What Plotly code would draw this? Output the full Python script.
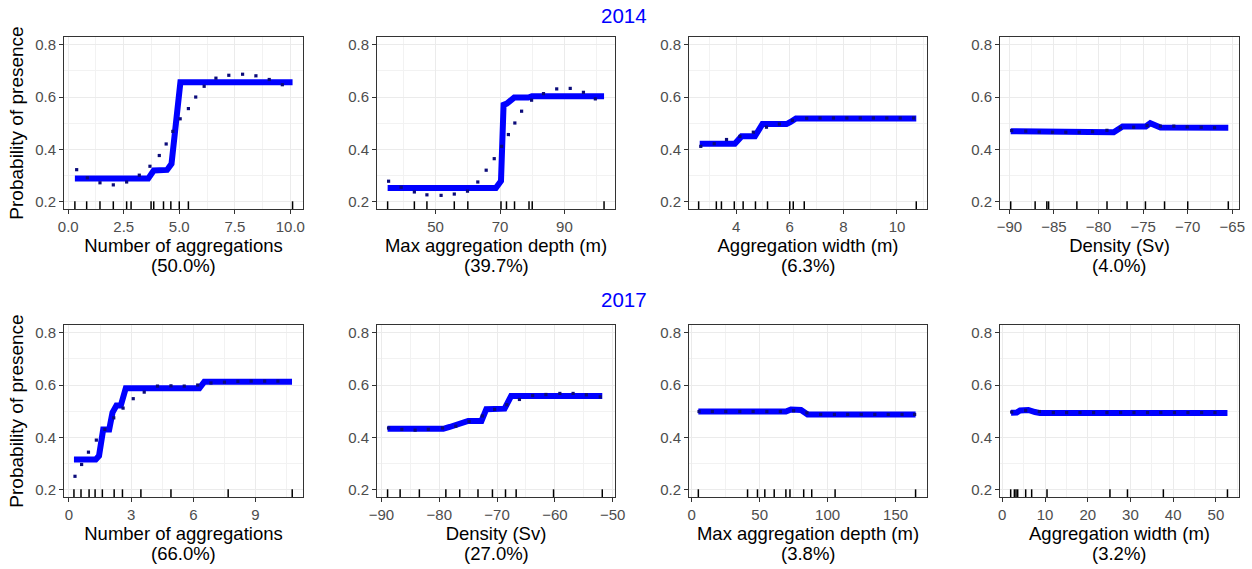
import plotly.graph_objects as go

# ---------------- data ----------------
YEARS = ["2014", "2017"]
TITLES_2014 = ["Number of aggregations", "Max aggregation depth (m)", "Aggregation width (m)", "Density (Sv)"]
PCT_2014 = ["(50.0%)", "(39.7%)", "(6.3%)", "(4.0%)"]
TITLES_2017 = ["Number of aggregations", "Density (Sv)", "Max aggregation depth (m)", "Aggregation width (m)"]
PCT_2017 = ["(66.0%)", "(27.0%)", "(3.8%)", "(3.2%)"]
Y_LABEL = "Probability of presence"
Y_TICKS = [0.2, 0.4, 0.6, 0.8]

# 2014 - Number of aggregations
n14_line_x = [0.3, 3.6, 3.85, 4.45, 4.65, 4.8, 5.05, 10.1]
n14_line_y = [0.289, 0.289, 0.32, 0.322, 0.345, 0.45, 0.656, 0.656]
n14_dot_x = [0.38, 0.86, 1.43, 2.03, 2.63, 3.2, 3.68, 4.1, 4.41, 4.71, 5.04, 5.41, 5.74, 6.12, 6.65, 7.23, 7.85, 8.45, 9.05, 9.64]
n14_dot_y = [0.323, 0.292, 0.273, 0.265, 0.276, 0.302, 0.336, 0.377, 0.421, 0.469, 0.517, 0.556, 0.60, 0.641, 0.672, 0.683, 0.687, 0.681, 0.667, 0.647]
n14_rug = [0.30, 0.83, 1.43, 2.03, 2.63, 2.83, 3.73, 3.85, 4.29, 4.62, 5.0, 5.41, 10.1]

# 2014 - Max aggregation depth
d14_line_x = [35.1, 68.7, 70.3, 71.1, 72.1, 73.2, 74.4, 78.8, 79.9, 102.3]
d14_line_y = [0.253, 0.253, 0.28, 0.57, 0.575, 0.59, 0.598, 0.598, 0.603, 0.603]
d14_dot_x = [35.4, 39.3, 43.4, 47.3, 51.7, 55.8, 59.9, 63.1, 65.7, 68.2, 70.5, 72.6, 74.6, 76.7, 79.8, 83.5, 87.6, 91.8, 95.9, 99.6]
d14_dot_y = [0.279, 0.256, 0.238, 0.227, 0.225, 0.23, 0.241, 0.276, 0.321, 0.365, 0.412, 0.457, 0.501, 0.546, 0.588, 0.613, 0.631, 0.633, 0.618, 0.593]
d14_rug = [35.1, 43.4, 47.3, 55.8, 60.0, 70.3, 72.0, 74.5, 79.0, 80.0, 102.3]

# 2014 - Aggregation width
w14_line_x = [2.64, 3.95, 4.2, 4.7, 4.98, 5.88, 6.03, 6.23, 10.72]
w14_line_y = [0.422, 0.422, 0.45, 0.45, 0.497, 0.497, 0.505, 0.518, 0.518]
w14_dot_x = [2.68, 3.18, 3.64, 4.14, 4.64, 5.13, 5.61, 6.1, 6.63, 7.13, 7.63, 8.13, 8.63, 9.12, 9.62, 10.12, 10.62]
w14_dot_y = [0.412, 0.422, 0.438, 0.45, 0.466, 0.485, 0.497, 0.511, 0.519, 0.52, 0.52, 0.52, 0.52, 0.52, 0.52, 0.52, 0.52]
w14_rug = [2.6, 3.26, 3.45, 3.93, 4.26, 4.72, 5.17, 6.0, 6.13, 6.54, 10.72]

# 2014 - Density
s14_line_x = [-89.85, -85.8, -85.24, -78.3, -77.3, -74.7, -74.2, -73.06, -65.45]
s14_line_y = [0.47, 0.47, 0.466, 0.466, 0.488, 0.488, 0.50, 0.484, 0.483]
s14_dot_x = [-89.74, -88.16, -86.66, -85.16, -83.67, -82.17, -80.67, -79.06, -77.56, -76.06, -74.56, -73.06, -71.56, -70.06, -68.49, -66.99]
s14_dot_y = [0.472, 0.47, 0.467, 0.466, 0.466, 0.466, 0.468, 0.473, 0.482, 0.485, 0.491, 0.489, 0.489, 0.486, 0.485, 0.483]
s14_rug = [-89.85, -87.11, -85.8, -85.6, -82.43, -79.05, -76.8, -74.74, -72.6, -70.0, -65.45]

# 2017 - Number of aggregations
n17_line_x = [0.24, 1.29, 1.45, 1.65, 1.94, 2.1, 2.29, 2.5, 2.74, 6.29, 6.53, 10.76]
n17_line_y = [0.316, 0.316, 0.33, 0.43, 0.43, 0.495, 0.522, 0.522, 0.588, 0.588, 0.613, 0.613]
n17_dot_x = [0.29, 0.61, 0.94, 1.32, 1.73, 2.16, 2.61, 3.1, 3.63, 4.27, 4.92, 5.56, 6.21, 6.85, 7.5, 8.15, 8.79, 9.44, 10.08]
n17_dot_y = [0.252, 0.297, 0.344, 0.39, 0.431, 0.475, 0.512, 0.548, 0.573, 0.596, 0.597, 0.596, 0.60, 0.608, 0.611, 0.614, 0.615, 0.615, 0.615]
n17_rug = [0.24, 0.58, 0.97, 1.26, 1.61, 2.18, 2.58, 3.47, 4.92, 7.68, 10.77]

# 2017 - Density
s17_line_x = [-88.94, -79.3, -78.2, -75.9, -75.0, -72.7, -71.86, -68.7, -67.57, -51.8]
s17_line_y = [0.433, 0.433, 0.44, 0.455, 0.463, 0.463, 0.508, 0.51, 0.558, 0.558]
s17_dot_x = [-88.77, -86.48, -84.18, -81.89, -79.43, -77.14, -74.85, -72.55, -70.43, -68.31, -66.13, -63.84, -61.55, -59.14, -56.85, -54.56, -52.15]
s17_dot_y = [0.436, 0.431, 0.428, 0.431, 0.436, 0.443, 0.461, 0.482, 0.507, 0.525, 0.545, 0.56, 0.564, 0.568, 0.568, 0.563, 0.555]
s17_rug = [-88.94, -86.77, -83.44, -78.86, -76.46, -73.3, -70.8, -68.54, -66.7, -60.23, -51.8]

# 2017 - Max aggregation depth
d17_line_x = [4.9, 69.3, 73.0, 80.4, 85.3, 164.7]
d17_line_y = [0.499, 0.499, 0.507, 0.505, 0.488, 0.488]
d17_dot_x = [5.4, 15.2, 25.1, 35.4, 45.2, 55.3, 65.2, 75.0, 84.8, 94.9, 105.0, 114.8, 124.7, 134.7, 144.6, 154.7, 164.0]
d17_dot_y = [0.499, 0.499, 0.499, 0.499, 0.499, 0.499, 0.499, 0.502, 0.494, 0.488, 0.488, 0.488, 0.488, 0.488, 0.488, 0.488, 0.488]
d17_rug = [4.9, 41.1, 48.4, 53.8, 60.7, 69.3, 72.3, 82.4, 88.3, 105.5, 164.7]

# 2017 - Aggregation width
w17_line_x = [2.05, 3.37, 4.15, 6.1, 7.66, 8.83, 52.7]
w17_line_y = [0.494, 0.495, 0.503, 0.505, 0.497, 0.493, 0.493]
w17_dot_x = [2.2, 5.48, 8.67, 11.95, 15.07, 18.19, 21.38, 24.5, 27.7, 30.82, 34.0, 37.1, 40.3, 43.45, 46.65, 49.77]
w17_dot_y = [0.497, 0.503, 0.499, 0.495, 0.495, 0.495, 0.495, 0.495, 0.495, 0.495, 0.495, 0.495, 0.495, 0.495, 0.495, 0.495]
w17_rug = [1.97, 2.83, 3.22, 3.61, 5.48, 6.88, 10.47, 25.2, 29.3, 37.7, 52.7]

# ---------------- layout helpers ----------------
W, H = 1252, 569
FONT = "Arial, 'Liberation Sans', sans-serif"
COLS_PX = [(64, 303), (377, 615), (689, 927), (1000, 1239)]
ROWS_PX = [(37, 209), (325, 497)]
PCT_ROW_Y_PX = [265.5, 553]
YEAR_Y_PX = [15, 299]
Y_RANGE = [0.173, 0.829]
TITLE_SIZE = 18.5

panels = [
    (n14_line_x, n14_line_y, n14_dot_x, n14_dot_y, n14_rug, [-0.19, 10.57], 0, 2.5, 1.25, ".1f", TITLES_2014[0], PCT_2014[0]),
    (d14_line_x, d14_line_y, d14_dot_x, d14_dot_y, d14_rug, [31.8, 105.7], 50, 20, 10, "", TITLES_2014[1], PCT_2014[1]),
    (w14_line_x, w14_line_y, w14_dot_x, w14_dot_y, w14_rug, [2.24, 11.12], 4, 2, 1, "", TITLES_2014[2], PCT_2014[2]),
    (s14_line_x, s14_line_y, s14_dot_x, s14_dot_y, s14_rug, [-91.05, -64.25], -90, 5, 2.5, "", TITLES_2014[3], PCT_2014[3]),
    (n17_line_x, n17_line_y, n17_dot_x, n17_dot_y, n17_rug, [-0.24, 11.29], 0, 3, 1.5, "", TITLES_2017[0], PCT_2017[0]),
    (s17_line_x, s17_line_y, s17_dot_x, s17_dot_y, s17_rug, [-90.77, -49.6], -90, 10, 5, "", TITLES_2017[1], PCT_2017[1]),
    (d17_line_x, d17_line_y, d17_dot_x, d17_dot_y, d17_rug, [-1.97, 173.1], 0, 50, 25, "", TITLES_2017[2], PCT_2017[2]),
    (w17_line_x, w17_line_y, w17_dot_x, w17_dot_y, w17_rug, [-0.53, 55.4], 0, 10, 5, "", TITLES_2017[3], PCT_2017[3]),
]

fig = go.Figure()
layout = dict(
    width=W, height=H,
    margin=dict(l=0, r=0, t=0, b=0, pad=0, autoexpand=False),
    paper_bgcolor="white", plot_bgcolor="white",
    showlegend=False,
    font=dict(family=FONT, color="black"),
)

common = dict(
    automargin=False,
    showline=True, mirror=True, linecolor="#333333", linewidth=1,
    ticks="outside", ticklen=4, tickwidth=1, tickcolor="#333333",
    showgrid=True, gridcolor="#EBEBEB", gridwidth=1.1, zeroline=False,
    tickfont=dict(family=FONT, size=15, color="#4D4D4D"),
)

annotations = []
for i, (lx, ly, dx, dy, rug, xr, t0, dt, mdt, tf, title, pct) in enumerate(panels):
    r, c = divmod(i, 4)
    k = "" if i == 0 else str(i + 1)
    xa, ya = "x" + k, "y" + k
    x0, x1 = COLS_PX[c]
    y0, y1 = ROWS_PX[r]
    layout["xaxis" + k] = dict(
        common, domain=[x0 / W, x1 / W], anchor=ya, range=xr,
        tickmode="linear", tick0=t0, dtick=dt, tickformat=tf,
        minor=dict(showgrid=True, gridcolor="#F2F2F2", gridwidth=0.6, tick0=t0, dtick=mdt, ticks=""),
        title=dict(text=title, font=dict(family=FONT, size=TITLE_SIZE, color="black"), standoff=3),
    )
    layout["yaxis" + k] = dict(
        common, domain=[1 - y1 / H, 1 - y0 / H], anchor=xa, range=Y_RANGE,
        tickmode="array", tickvals=Y_TICKS, ticktext=[f"{v:.1f}" for v in Y_TICKS],
        minor=dict(showgrid=True, gridcolor="#F2F2F2", gridwidth=0.6, tickvals=[0.3, 0.5, 0.7], ticks=""),
        title=dict(text=Y_LABEL if c == 0 else "", font=dict(family=FONT, size=19, color="black"), standoff=6),
    )
    annotations.append(dict(text=pct, xref=xa + " domain", x=0.5, yref="paper", y=1 - PCT_ROW_Y_PX[r] / H,
                            xanchor="center", yanchor="middle", showarrow=False,
                            font=dict(family=FONT, size=TITLE_SIZE, color="black")))
    fig.add_trace(go.Scatter(x=lx, y=ly, mode="lines", xaxis=xa, yaxis=ya,
                             line=dict(color="#0000FF", width=6), hoverinfo="skip"))
    fig.add_trace(go.Scatter(x=dx, y=dy, mode="markers", xaxis=xa, yaxis=ya,
                             marker=dict(symbol="square", size=3.2, color="#0B0B7A"), hoverinfo="skip"))
    fig.add_trace(go.Scatter(x=rug, y=[Y_RANGE[0]] * len(rug), mode="markers", xaxis=xa, yaxis=ya,
                             marker=dict(symbol="line-ns", size=11, line=dict(color="black", width=1.5)),
                             cliponaxis=True, hoverinfo="skip"))

for yr, ypx in zip(YEARS, YEAR_Y_PX):
    annotations.append(dict(text=yr, x=624 / W, y=1 - ypx / H, xref="paper", yref="paper",
                            xanchor="center", yanchor="middle", showarrow=False,
                            font=dict(family=FONT, size=20.5, color="#0000FF")))
layout["annotations"] = annotations
fig.update_layout(**layout)
fig.write_html("out.html", config={"displayModeBar": False},
               post_script="document.body.style.margin='0';")
